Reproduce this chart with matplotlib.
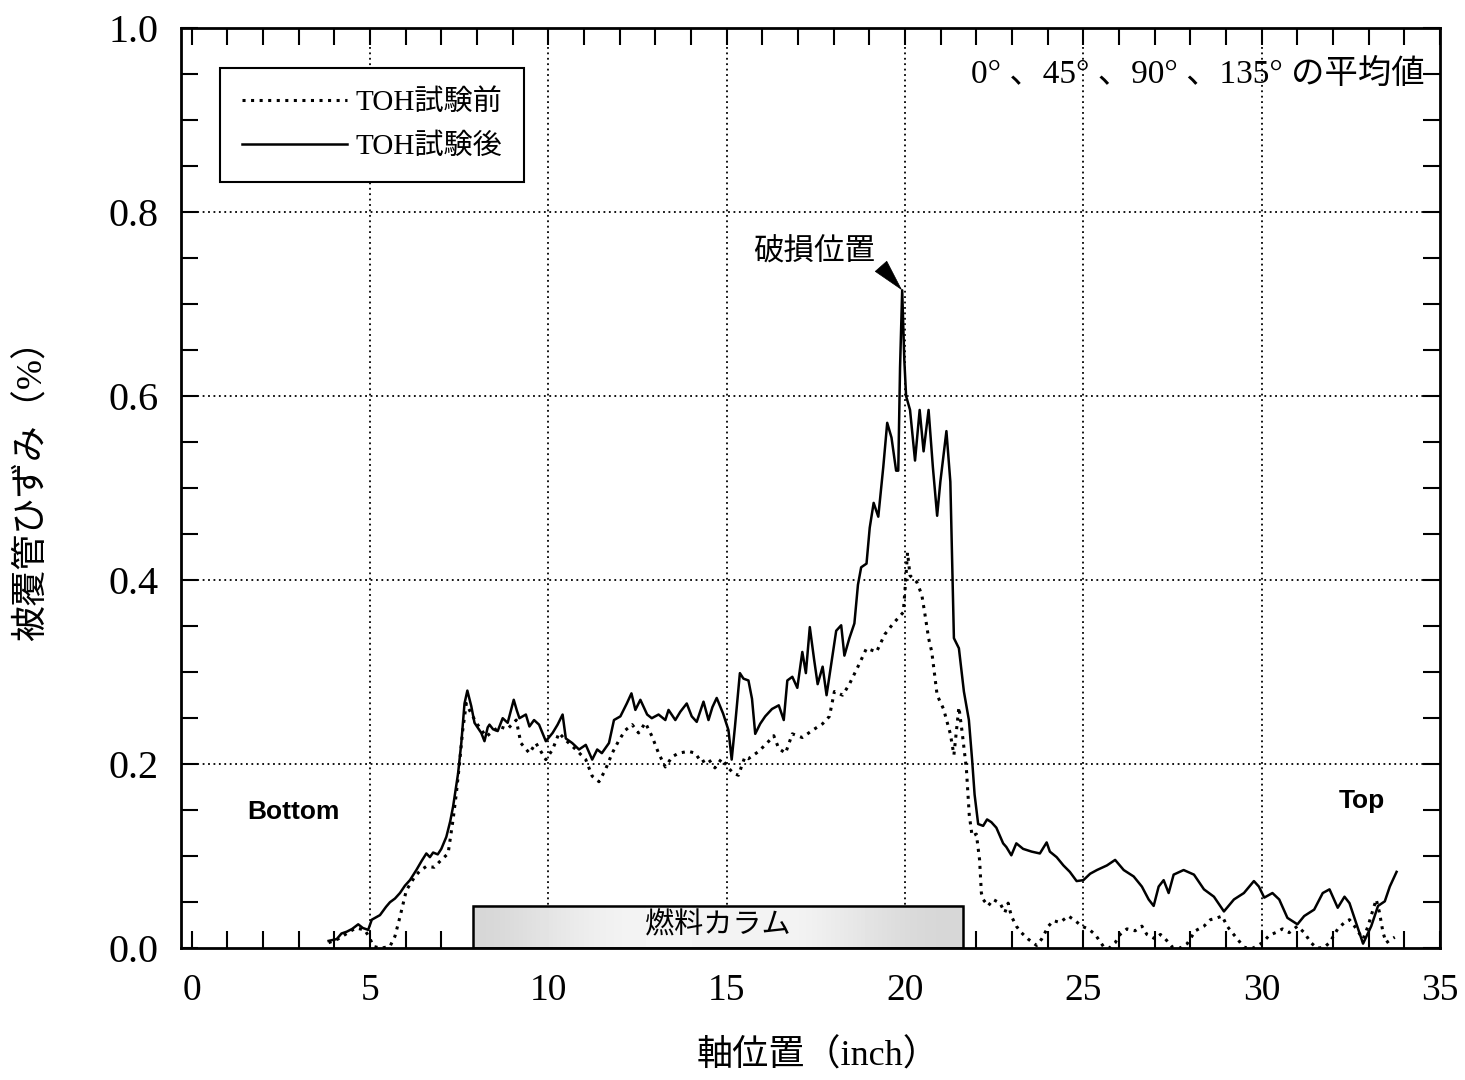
import matplotlib
matplotlib.use("Agg")
import matplotlib.pyplot as plt
import numpy as np
from matplotlib.patches import Rectangle
from matplotlib.ticker import MultipleLocator, FormatStrFormatter

plt.rcParams['font.family'] = ['Liberation Serif', 'Noto Sans CJK JP']

# TOH試験後 (solid), axial position in inch / strain in %
after_x = [3.84, 4.07, 4.20, 4.35, 4.50, 4.67, 4.80, 4.95, 5.05, 5.28, 5.45, 5.56, 5.70, 5.84,
           5.98, 6.12, 6.30, 6.45, 6.58, 6.68, 6.77, 6.90, 7.00, 7.14, 7.25, 7.33, 7.47, 7.56,
           7.65, 7.73, 7.84, 7.93, 8.05, 8.12, 8.21, 8.30, 8.35, 8.45, 8.58, 8.72, 8.86, 9.03,
           9.12, 9.19, 9.37, 9.47, 9.60, 9.74, 9.93, 10.12, 10.26, 10.40, 10.49, 10.67, 10.86,
           11.05, 11.23, 11.37, 11.50, 11.70, 11.84, 12.02, 12.20, 12.33, 12.44, 12.58, 12.77,
           12.90, 13.09, 13.28, 13.37, 13.56, 13.70, 13.88, 14.02, 14.16, 14.35, 14.49, 14.60,
           14.72, 14.90, 15.05, 15.14, 15.23, 15.30, 15.37, 15.47, 15.61, 15.71, 15.80, 15.94,
           16.08, 16.27, 16.46, 16.60, 16.70, 16.84, 16.98, 17.12, 17.22, 17.33, 17.45, 17.55,
           17.69, 17.80, 17.92, 18.07, 18.21, 18.30, 18.44, 18.58, 18.68, 18.77, 18.92, 19.01,
           19.12, 19.25, 19.39, 19.50, 19.62, 19.75, 19.81, 19.86, 19.92, 19.98, 20.03, 20.14,
           20.28, 20.41, 20.52, 20.66, 20.78, 20.90, 20.99, 21.16, 21.27, 21.37, 21.51, 21.65,
           21.79, 21.88, 21.95, 22.05, 22.19, 22.30, 22.42, 22.56, 22.75, 22.84, 22.98, 23.12,
           23.31, 23.55, 23.78, 23.97, 24.06, 24.25, 24.44, 24.62, 24.81, 25.00, 25.19, 25.38,
           25.66, 25.89, 26.13, 26.41, 26.64, 26.83, 26.97, 27.11, 27.25, 27.39, 27.53, 27.81,
           28.10, 28.38, 28.66, 28.94, 29.22, 29.50, 29.78, 29.92, 30.07, 30.30, 30.49, 30.72,
           31.00, 31.19, 31.47, 31.71, 31.90, 32.13, 32.32, 32.46, 32.84, 33.07, 33.26, 33.45,
           33.59, 33.78]
after_y = [0.008, 0.010, 0.016, 0.018, 0.021, 0.026, 0.022, 0.020, 0.031, 0.036, 0.045, 0.050,
           0.054, 0.060, 0.068, 0.074, 0.085, 0.095, 0.103, 0.099, 0.104, 0.102, 0.108, 0.121,
           0.138, 0.154, 0.190, 0.223, 0.266, 0.280, 0.263, 0.245, 0.238, 0.234, 0.225, 0.240,
           0.243, 0.238, 0.236, 0.250, 0.245, 0.270, 0.258, 0.250, 0.254, 0.241, 0.248, 0.243,
           0.225, 0.234, 0.243, 0.254, 0.228, 0.223, 0.216, 0.221, 0.205, 0.216, 0.212, 0.223,
           0.248, 0.252, 0.266, 0.277, 0.259, 0.270, 0.254, 0.250, 0.254, 0.248, 0.259, 0.248,
           0.257, 0.266, 0.252, 0.246, 0.268, 0.248, 0.262, 0.272, 0.255, 0.237, 0.205, 0.240,
           0.270, 0.299, 0.293, 0.291, 0.271, 0.233, 0.244, 0.252, 0.260, 0.264, 0.248, 0.291,
           0.295, 0.283, 0.322, 0.299, 0.349, 0.314, 0.287, 0.306, 0.275, 0.306, 0.345, 0.351,
           0.318, 0.337, 0.353, 0.395, 0.414, 0.418, 0.457, 0.484, 0.469, 0.523, 0.571, 0.555,
           0.519, 0.519, 0.631, 0.715, 0.639, 0.600, 0.585, 0.530, 0.585, 0.540, 0.585, 0.523,
           0.470, 0.507, 0.562, 0.507, 0.337, 0.326, 0.279, 0.248, 0.205, 0.167, 0.135, 0.133,
           0.140, 0.137, 0.131, 0.114, 0.110, 0.101, 0.114, 0.108, 0.105, 0.103, 0.115, 0.105,
           0.099, 0.090, 0.083, 0.073, 0.074, 0.081, 0.085, 0.090, 0.096, 0.085, 0.078, 0.067,
           0.053, 0.046, 0.067, 0.074, 0.060, 0.080, 0.085, 0.080, 0.064, 0.056, 0.040, 0.053,
           0.060, 0.073, 0.067, 0.055, 0.060, 0.053, 0.033, 0.026, 0.035, 0.042, 0.060, 0.064,
           0.044, 0.056, 0.049, 0.005, 0.024, 0.046, 0.051, 0.067, 0.083]

# TOH試験前 (dotted)
before_x = [3.84, 4.10, 4.35, 4.60, 4.85, 4.98, 5.10, 5.30, 5.56, 5.70, 5.84, 6.02, 6.26, 6.40,
            6.58, 6.80, 6.95, 7.19, 7.33, 7.42, 7.51, 7.60, 7.70, 7.80, 7.98, 8.26, 8.45, 8.63,
            8.85, 9.10, 9.23, 9.47, 9.65, 9.93, 10.12, 10.30, 10.49, 10.77, 11.05, 11.23, 11.42,
            11.60, 11.79, 11.98, 12.16, 12.35, 12.53, 12.72, 12.91, 13.09, 13.28, 13.47, 13.65,
            13.93, 14.12, 14.29, 14.48, 14.67, 14.86, 15.05, 15.19, 15.33, 15.51, 15.61, 15.90,
            16.18, 16.32, 16.46, 16.65, 16.84, 17.12, 17.41, 17.69, 17.88, 18.02, 18.25, 18.44,
            18.73, 18.92, 19.20, 19.43, 19.67, 19.95, 20.00, 20.07, 20.14, 20.33, 20.47, 20.57,
            20.66, 20.75, 20.90, 21.08, 21.27, 21.37, 21.51, 21.60, 21.72, 21.80, 21.88, 22.00,
            22.09, 22.14, 22.19, 22.33, 22.47, 22.66, 22.80, 22.89, 22.98, 23.12, 23.26, 23.45,
            23.69, 23.83, 24.02, 24.16, 24.34, 24.58, 24.77, 24.95, 25.14, 25.33, 25.56, 25.72,
            25.89, 26.03, 26.22, 26.45, 26.64, 26.78, 27.02, 27.16, 27.30, 27.50, 27.70, 27.91,
            28.14, 28.38, 28.56, 28.75, 28.89, 29.03, 29.17, 29.32, 29.50, 29.75, 30.02, 30.21,
            30.39, 30.58, 30.77, 31.00, 31.19, 31.38, 31.55, 31.75, 31.90, 32.13, 32.32, 32.46,
            32.60, 32.84, 32.98, 33.12, 33.21, 33.30, 33.40, 33.49, 33.64, 33.73]
before_y = [0.006, 0.010, 0.016, 0.022, 0.020, 0.012, 0.002, 0.000, 0.002, 0.013, 0.034, 0.063,
            0.078, 0.084, 0.089, 0.088, 0.094, 0.103, 0.140, 0.168, 0.201, 0.237, 0.266, 0.258,
            0.245, 0.230, 0.236, 0.241, 0.238, 0.248, 0.223, 0.212, 0.223, 0.205, 0.216, 0.234,
            0.226, 0.216, 0.205, 0.187, 0.181, 0.194, 0.212, 0.226, 0.237, 0.243, 0.234, 0.245,
            0.230, 0.212, 0.197, 0.208, 0.212, 0.214, 0.212, 0.202, 0.206, 0.196, 0.206, 0.196,
            0.190, 0.188, 0.208, 0.206, 0.214, 0.225, 0.231, 0.217, 0.212, 0.233, 0.229, 0.237,
            0.244, 0.252, 0.279, 0.275, 0.287, 0.310, 0.326, 0.322, 0.341, 0.353, 0.365, 0.390,
            0.430, 0.405, 0.398, 0.384, 0.360, 0.337, 0.322, 0.275, 0.260, 0.233, 0.210, 0.262,
            0.235, 0.195, 0.145, 0.122, 0.124, 0.096, 0.060, 0.053, 0.046, 0.053, 0.049, 0.039,
            0.049, 0.035, 0.024, 0.017, 0.010, 0.003, 0.010, 0.024, 0.030, 0.028, 0.035, 0.030,
            0.024, 0.021, 0.015, 0.002, 0.000, 0.006, 0.015, 0.021, 0.019, 0.024, 0.015, 0.010,
            0.015, 0.010, 0.001, 0.000, 0.005, 0.019, 0.024, 0.031, 0.033, 0.035, 0.024, 0.017,
            0.010, 0.001, 0.000, 0.006, 0.014, 0.017, 0.021, 0.017, 0.024, 0.017, 0.006, 0.000,
            0.001, 0.006, 0.021, 0.028, 0.031, 0.024, 0.010, 0.024, 0.042, 0.053, 0.039, 0.017,
            0.006, 0.010, 0.012]

fuel_column = (7.89, 21.62)     # inch
break_point = (19.92, 0.715)
x_ticks = [0, 5, 10, 15, 20, 25, 30, 35]
y_ticks = [0.0, 0.2, 0.4, 0.6, 0.8, 1.0]
grid_x = [5, 10, 15, 20, 25, 30]
grid_y = [0.2, 0.4, 0.6, 0.8]

fig = plt.figure(figsize=(14.65, 10.8), dpi=100)
ax = fig.add_axes([0.1235, 0.122, 0.8595, 0.852])

for gx in grid_x:
    ax.axvline(gx, color='black', lw=1.3, linestyle=(0, (1, 2)), zorder=1)
for gy in grid_y:
    ax.axhline(gy, color='black', lw=1.3, linestyle=(0, (1, 2)), zorder=1)

# fuel column bar (stippled grey, darker at both ends)
shade = np.array([[0.84, 0.87, 0.90, 0.93, 0.95, 0.96, 0.96, 0.95, 0.95, 0.96, 0.94,
                   0.91, 0.88, 0.85, 0.84]])
ax.imshow(shade, cmap='gray', vmin=0, vmax=1, aspect='auto', interpolation='bicubic',
          extent=[fuel_column[0], fuel_column[1], 0, 0.046], zorder=2)
ax.add_patch(Rectangle((fuel_column[0], 0), fuel_column[1] - fuel_column[0], 0.046,
                       fill=False, edgecolor='black', lw=1.8, zorder=3))
ax.text(sum(fuel_column) / 2, 0.025, '燃料カラム', ha='center', va='center', fontsize=21,
        family='Noto Sans CJK JP', zorder=4)

ax.plot(before_x, before_y, color='black', lw=2.2, linestyle=(0, (1, 1.8)), label='TOH試験前', zorder=4)
ax.plot(after_x, after_y, color='black', lw=1.8, label='TOH試験後', zorder=5)

ax.annotate('', xy=break_point, xytext=(-15, 17), textcoords='offset points',
            arrowprops=dict(arrowstyle='-|>,head_length=22,head_width=5.5', mutation_scale=1,
                            color='black', lw=0.5, shrinkA=0, shrinkB=0), zorder=6)
ax.text(17.45, 0.757, '破損位置', ha='center', va='center', fontsize=22, family='Noto Sans CJK JP')

ax.text(2.85, 0.148, 'Bottom', ha='center', va='center', fontsize=19, fontweight='bold',
        family='Liberation Sans')
ax.text(32.8, 0.160, 'Top', ha='center', va='center', fontsize=19, fontweight='bold',
        family='Liberation Sans')
ax.text(0.988, 0.950, '0° 、45° 、90° 、135° の平均値', transform=ax.transAxes,
        ha='right', va='center', fontsize=24)

ax.set_xlim(-0.3, 35)
ax.set_ylim(0, 1.0)
ax.set_xticks(x_ticks)
ax.set_yticks(y_ticks)
ax.xaxis.set_minor_locator(MultipleLocator(1))
ax.yaxis.set_minor_locator(MultipleLocator(0.05))
ax.yaxis.set_major_formatter(FormatStrFormatter('%.1f'))
ax.tick_params(which='both', direction='in', top=True, right=True, width=1.5, length=12)
ax.tick_params(axis='x', which='major', labelsize=27, pad=18)
ax.tick_params(axis='y', which='major', labelsize=29, pad=16)
for s in ax.spines.values():
    s.set_linewidth(2)

ax.set_xlabel('軸位置（inch）', fontsize=26, va='center')
ax.set_ylabel('被覆管ひずみ（%）', fontsize=26, va='center')
ax.xaxis.set_label_coords(0.506, -0.118)
ax.yaxis.set_label_coords(-0.118, 0.507)

leg = ax.legend(loc='upper left', bbox_to_anchor=(0.031, 0.957), fontsize=21,
                handlelength=3.6, handletextpad=0.3, frameon=True, fancybox=False,
                framealpha=1, edgecolor='black', borderaxespad=0, labelspacing=0.6,
                borderpad=0.75)
leg.get_frame().set_linewidth(1.5)
leg.set_zorder(7)

fig.savefig('out.png', dpi=100)
